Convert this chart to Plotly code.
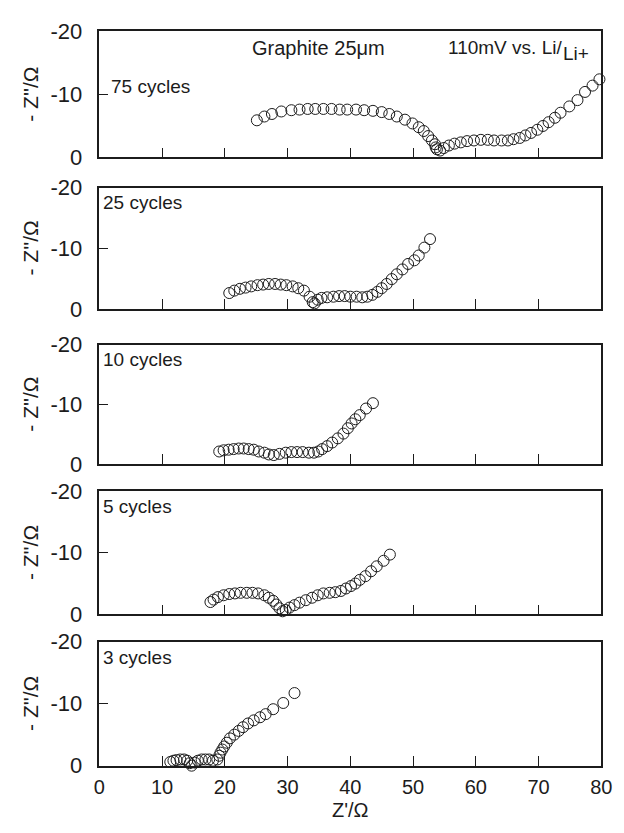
import plotly.graph_objects as go

# Nyquist plots of a 25 um graphite electrode at 110 mV vs. Li/Li+
# after different numbers of cycles.  Z' is the real part, -Z'' the
# magnitude of the imaginary part (both in ohm).

cycles = ["75 cycles", "25 cycles", "10 cycles", "5 cycles", "3 cycles"]

zre_75 = [25.1, 26.3, 27.5, 29.0, 30.6, 31.9, 33.2, 34.4, 35.7, 37.0, 38.3, 39.5,
          40.9, 42.2, 43.6, 45.0, 46.2, 47.4, 48.7, 49.9, 50.9, 51.7, 52.4, 53.0,
          53.5, 53.6, 53.8, 54.3, 54.9, 55.7, 56.6, 57.6, 58.6, 59.7, 60.8, 61.9,
          62.9, 64.1, 65.1, 66.0, 67.0, 67.9, 68.8, 69.8, 70.7, 71.6, 72.6, 73.5,
          74.9, 76.2, 77.4, 78.6, 79.7]
zim_75 = [5.9, 6.5, 6.9, 7.3, 7.5, 7.6, 7.7, 7.7, 7.7, 7.7, 7.6, 7.6,
          7.6, 7.5, 7.4, 7.2, 6.9, 6.5, 6.0, 5.4, 4.8, 4.2, 3.4, 2.7,
          2.1, 1.6, 1.3, 1.1, 1.5, 1.9, 2.2, 2.4, 2.6, 2.7, 2.8, 2.8,
          2.7, 2.7, 2.7, 2.9, 3.1, 3.5, 3.9, 4.4, 5.0, 5.6, 6.3, 7.1,
          8.1, 9.1, 10.4, 11.4, 12.4]

zre_25 = [20.7, 21.5, 22.4, 23.3, 24.2, 25.2, 26.1, 27.0, 28.0, 28.9, 29.8, 30.8,
          31.7, 32.6, 33.5, 34.0, 34.3, 34.8, 35.4, 36.3, 37.3, 38.2, 39.1, 40.0,
          41.0, 41.9, 42.7, 43.5, 44.3, 45.0, 45.8, 46.6, 47.4, 48.3, 49.2, 50.2,
          50.9, 51.8, 52.7]
zim_25 = [2.6, 3.0, 3.3, 3.5, 3.7, 3.9, 4.0, 4.1, 4.1, 4.0, 3.9, 3.7,
          3.4, 3.0, 2.0, 1.1, 0.9, 1.5, 1.8, 1.9, 2.0, 2.1, 2.1, 2.0,
          2.0, 1.9, 2.0, 2.3, 2.8, 3.4, 4.1, 4.9, 5.7, 6.5, 7.4, 8.0,
          8.8, 10.1, 11.5]

zre_10 = [19.1, 19.8, 20.6, 21.4, 22.2, 23.0, 23.8, 24.6, 25.4, 26.3, 27.0, 27.8,
          28.7, 29.7, 30.6, 31.5, 32.4, 33.4, 34.2, 34.9, 35.5, 36.3, 37.1, 38.0,
          38.9, 39.6, 40.2, 40.8, 41.5, 42.5, 43.6]
zim_10 = [2.1, 2.3, 2.4, 2.5, 2.6, 2.6, 2.5, 2.4, 2.1, 1.9, 1.6, 1.5,
          1.7, 1.9, 2.0, 2.0, 2.0, 1.9, 1.9, 2.1, 2.5, 3.0, 3.6, 4.3,
          5.1, 6.0, 6.8, 7.5, 8.2, 9.3, 10.2]

zre_5 = [17.7, 18.2, 18.9, 19.8, 20.7, 21.6, 22.5, 23.5, 24.4, 25.3, 26.3, 27.0,
         27.7, 28.2, 28.7, 29.2, 29.7, 30.3, 31.1, 31.9, 32.9, 33.9, 34.8, 35.7,
         36.7, 37.6, 38.5, 39.3, 40.1, 40.8, 41.5, 42.4, 43.3, 44.2, 45.3, 46.3]
zim_5 = [2.0, 2.4, 2.8, 3.1, 3.3, 3.4, 3.5, 3.5, 3.5, 3.4, 3.1, 2.7,
         2.2, 1.6, 1.0, 0.5, 0.7, 1.1, 1.5, 1.9, 2.3, 2.7, 3.1, 3.4,
         3.5, 3.6, 3.8, 4.2, 4.6, 5.0, 5.6, 6.2, 7.0, 7.8, 8.7, 9.7]

zre_3 = [11.3, 11.8, 12.3, 12.9, 13.5, 14.0, 14.4, 14.7, 15.2, 15.7, 16.3, 16.9,
         17.5, 18.1, 18.8, 19.1, 19.3, 19.6, 19.9, 20.3, 20.8, 21.5, 22.2, 22.9,
         23.7, 24.6, 25.6, 26.5, 27.7, 29.3, 31.1]
zim_3 = [0.6, 0.8, 0.9, 1.0, 1.0, 0.8, 0.4, 0.0, 0.5, 0.8, 1.0, 1.0,
         1.0, 0.8, 1.0, 1.6, 2.1, 2.6, 3.1, 3.7, 4.4, 5.0, 5.6, 6.2,
         6.8, 7.3, 7.8, 8.3, 9.1, 10.1, 11.7]

x_ticks = [0, 10, 20, 30, 40, 50, 60, 70, 80]
y_ticks = [-20, -10, 0]

series = [(zre_75, zim_75), (zre_25, zim_25), (zre_10, zim_10),
          (zre_5, zim_5), (zre_3, zim_3)]

W, H = 624, 833
INK = "#1c1c1c"
FONT = "Liberation Sans, Arial, sans-serif"

# panel frames in pixels (top, bottom)
panels_px = [(20, 150), (181, 306), (343, 466), (494, 621), (649, 777)]
x_left, x_right = 96, 612

fig = go.Figure()
layout = dict(
    width=W, height=H,
    margin=dict(l=0, r=0, t=0, b=0),
    paper_bgcolor="white", plot_bgcolor="white",
    showlegend=False,
    font=dict(family=FONT, color=INK),
)

annotations = []
for i, ((zre, zim), label) in enumerate(zip(series, cycles)):
    n = i + 1
    xa = "x" if n == 1 else f"x{n}"
    ya = "y" if n == 1 else f"y{n}"
    fig.add_trace(go.Scatter(
        x=zre, y=[-v for v in zim], mode="markers",
        xaxis=xa, yaxis=ya,
        marker=dict(symbol="circle-open", size=11, color=INK,
                    line=dict(width=1, color=INK)),
        cliponaxis=False,
    ))
    top, bot = panels_px[i]
    last = n == len(series)
    layout["xaxis" if n == 1 else f"xaxis{n}"] = dict(
        domain=[x_left / W, x_right / W], anchor=ya,
        range=[0, 80], tickvals=x_ticks,
        showticklabels=last, tickfont=dict(size=20, family=FONT, color=INK),
        ticks="inside", ticklen=10, tickwidth=1, tickcolor=INK,
        showline=True, linecolor=INK, linewidth=1.5, mirror=True,
        showgrid=False, zeroline=False,
        ticklabelstandoff=3,
    )
    layout["yaxis" if n == 1 else f"yaxis{n}"] = dict(
        domain=[1 - bot / H, 1 - top / H], anchor=xa,
        range=[0, -20], tickvals=y_ticks, ticktext=["-20", "-10", "0"],
        tickfont=dict(size=22, family=FONT, color=INK),
        ticks="inside", ticklen=9, tickwidth=1, tickcolor=INK,
        showline=True, linecolor=INK, linewidth=1.5, mirror=True,
        showgrid=False, zeroline=False,
        ticklabelstandoff=11,
    )
    # rotated y title for each panel
    annotations.append(dict(
        text="- Z''/Ω", textangle=-90, showarrow=False,
        xref="paper", yref="paper",
        x=25 / W, y=1 - (top + bot) / 2 / H,
        xanchor="center", yanchor="middle",
        font=dict(size=21, family=FONT, color=INK),
    ))
    # cycle label in the upper-left of each panel
    if n == 1:
        lx, ly = 1.6, -11.2
    else:
        lx, ly = 0.3, -17.5
    annotations.append(dict(
        text=label, showarrow=False, xref=xa, yref=ya,
        x=lx, y=ly, xanchor="left", yanchor="middle",
        font=dict(size=19, family=FONT, color=INK),
    ))

annotations.append(dict(
    text="Graphite 25μm", showarrow=False, xref="x", yref="y",
    x=35.0, y=-17.4, xanchor="center", yanchor="middle",
    font=dict(size=20, family=FONT, color=INK),
))
annotations.append(dict(
    text="110mV vs. Li/", showarrow=False, xref="x", yref="y",
    x=55.3, y=-17.4, xanchor="left", yanchor="middle",
    font=dict(size=19, family=FONT, color=INK),
))
annotations.append(dict(
    text="Li+", showarrow=False, xref="x", yref="y",
    x=73.6, y=-16.5, xanchor="left", yanchor="middle",
    font=dict(size=19, family=FONT, color=INK),
))
annotations.append(dict(
    text="Z'/Ω", showarrow=False, xref="paper", yref="paper",
    x=(x_left + x_right) / 2 / W, y=1 - 823 / H,
    xanchor="center", yanchor="middle",
    font=dict(size=20, family=FONT, color=INK),
))

layout["annotations"] = annotations
fig.update_layout(**layout)
fig.write_html("out.html")
